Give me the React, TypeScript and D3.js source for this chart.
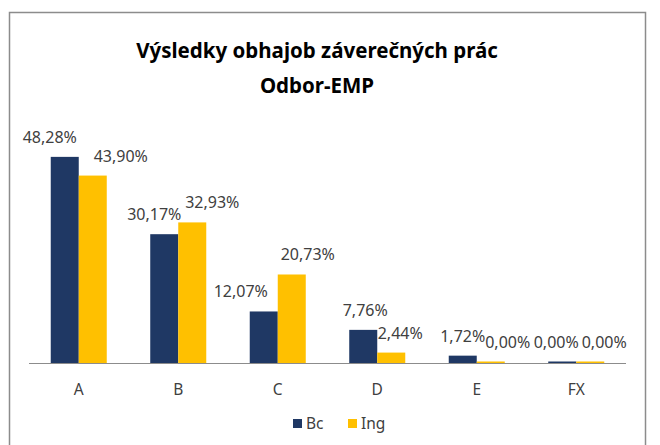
import React from "react";
import * as d3 from "d3";

const categories = ["A", "B", "C", "D", "E", "FX"];
const seriesNames = ["Bc", "Ing"];
const bcValues = [48.28, 30.17, 12.07, 7.76, 1.72, 0.0];
const ingValues = [43.9, 32.93, 20.73, 2.44, 0.0, 0.0];
const colors = ["#1F3864", "#FFC000"];
const titleLines = ["Výsledky obhajob záverečných prác", "Odbor-EMP"];

// layout nudges for data labels (Excel-style collision avoidance)
const bcLabelShift = [-15, -10, -23, 2, 0, -6];
const ingLabelShift = [28, 20, 16, 9, 17, 14];

const W = 660;
const H = 445;
const plot = { left: 29, right: 626, top: 100, bottom: 363 };

const fmt = (v: number) => v.toFixed(2).replace(".", ",") + "%";

export default function App() {
  const x = d3.scaleBand().domain(categories).range([plot.left, plot.right]).paddingInner(0.437).paddingOuter(0.2185);
  const inner = d3.scaleBand().domain(seriesNames).range([0, x.bandwidth()]);
  const y = d3.scaleLinear().domain([0, 61.6]).range([plot.bottom, plot.bottom - 263]);
  const series = [bcValues, ingValues];
  const shifts = [bcLabelShift, ingLabelShift];
  const font = "'Noto Sans', sans-serif";

  return (
    <svg width={W} height={H} style={{ position: "absolute", left: 0, top: 0, background: "#fff" }} fontFamily={font}>
      <rect x={9.5} y={12.5} width={636} height={450} fill="#fff" stroke="#8c8c8c" strokeWidth={1.5} />
      {titleLines.map((t, i) => (
        <text key={i} x={317} y={58 + i * 35} textAnchor="middle" fontSize={20.5} fontWeight="bold" fill="#000">
          {t}
        </text>
      ))}
      {categories.map((c, ci) =>
        series.map((vals, si) => {
          const bx = (x(c) as number) + (inner(seriesNames[si]) as number);
          const top = y(vals[ci]);
          const h = Math.max(1.5, plot.bottom - top);
          return (
            <g key={c + si}>
              <rect x={bx} y={plot.bottom - h} width={inner.bandwidth()} height={h} fill={colors[si]} />
              <text
                x={bx + inner.bandwidth() / 2 + shifts[si][ci]}
                y={plot.bottom - h - 14}
                textAnchor="middle"
                fontSize={16}
                fill="#404040"
              >
                {fmt(vals[ci])}
              </text>
            </g>
          );
        })
      )}
      <line x1={plot.left} x2={plot.right} y1={plot.bottom + 0.5} y2={plot.bottom + 0.5} stroke="#8c8c8c" strokeWidth={1} />
      {categories.map((c) => (
        <text key={c} x={(x(c) as number) + x.bandwidth() / 2} y={395} textAnchor="middle" fontSize={15.5} fill="#404040">
          {c}
        </text>
      ))}
      {seriesNames.map((s, i) => (
        <g key={s} transform={`translate(${293 + i * 55},419)`}>
          <rect width={9} height={9} fill={colors[i]} />
          <text x={13} y={10} fontSize={15.5} fill="#404040">
            {s}
          </text>
        </g>
      ))}
    </svg>
  );
}
